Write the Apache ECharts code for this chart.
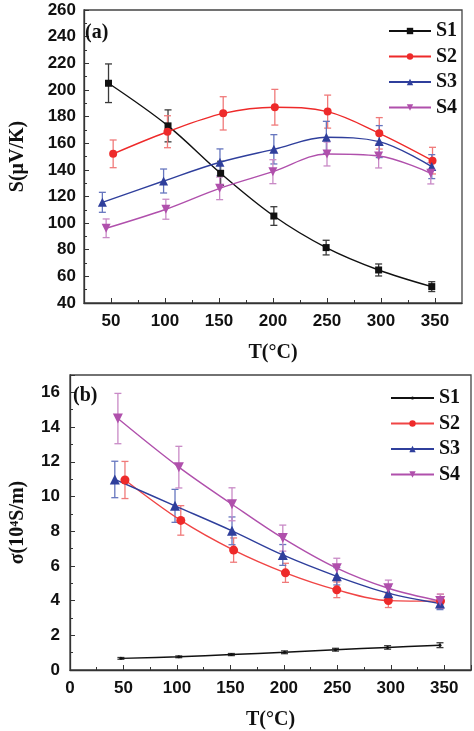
<!DOCTYPE html>
<html>
<head>
<meta charset="utf-8">
<script src="https://cdn.jsdelivr.net/npm/echarts@6/dist/echarts.min.js"></script>
<style>
html,body{margin:0;padding:0;background:#fff;}
#chart{width:474px;height:731px;}
</style>
</head>
<body>
<div id="chart"></div>
<script>
// ---------- Panel (a): Seebeck coefficient ----------
const seriesNames = ['S1', 'S2', 'S3', 'S4'];
const tickLabelsA = [50, 100, 150, 200, 250, 300, 350];
const tickLabelsB = [0, 50, 100, 150, 200, 250, 300, 350];

const aT_S1 = [47.7, 102.8, 151.5, 200.8, 249.2, 297.8, 347];
const aV_S1 = [205, 173, 137.4, 105.3, 81.6, 64.8, 52.3];
const aE_S1 = [14.5, 12, 9, 7, 5.5, 4.5, 3.7];

const aT_S2 = [52, 102.3, 153.9, 201.7, 250.6, 298.4, 347.7];
const aV_S2 = [152, 168.6, 182.4, 187, 183.7, 167.4, 146.9];
const aE_S2 = [10.4, 12, 12.5, 13.4, 12.4, 11.8, 10];

const aT_S3 = [42, 98.7, 150.9, 200.8, 249.4, 298.4, 347];
const aV_S3 = [115.6, 131.6, 145.7, 155.4, 164.4, 161.2, 142.4];
const aE_S3 = [7.5, 9, 10, 11, 12, 12, 9];

const aT_S4 = [45.5, 100.8, 150.6, 199.9, 250, 297.8, 346.1];
const aV_S4 = [96.1, 110.4, 126.1, 138.6, 151.9, 150.4, 137.4];
const aE_S4 = [7, 7.5, 8.5, 9, 9, 9, 8];

// ---------- Panel (b): electrical conductivity ----------
const bT_S1 = [47.6, 101.7, 150.9, 200.6, 248.3, 297, 346];
const bV_S1 = [0.67, 0.76, 0.89, 1.02, 1.17, 1.3, 1.43];
const bE_S1 = [0.05, 0.05, 0.06, 0.08, 0.08, 0.1, 0.14];

const bT_S2 = [51.4, 103.6, 153, 201.5, 249.5, 297.7, 346.5];
const bV_S2 = [10.95, 8.62, 6.91, 5.6, 4.62, 4.0, 3.97];
const bE_S2 = [1.07, 0.85, 0.7, 0.55, 0.45, 0.4, 0.4];

const bT_S3 = [41.9, 98.2, 151.5, 199, 249.5, 297.7, 346];
const bV_S3 = [10.98, 9.46, 8.02, 6.63, 5.4, 4.43, 3.83];
const bE_S3 = [1.05, 0.95, 0.8, 0.6, 0.5, 0.4, 0.35];

const bT_S4 = [44.8, 101.8, 151.5, 199, 249.5, 297.7, 346.2];
const bV_S4 = [14.49, 11.69, 9.55, 7.6, 5.87, 4.71, 3.97];
const bE_S4 = [1.45, 1.2, 0.95, 0.75, 0.57, 0.47, 0.4];

const lineColors = ['#111111', '#ee2a2a', '#2f3f9c', '#b050ac'];
const errColors = ['#3a3a3a', '#f07a7a', '#6676bf', '#c98ac6'];

const pairs = (xs, ys) => xs.map((x, i) => [x, ys[i]]);
const errs = (xs, ys, es) => xs.map((x, i) => [x, ys[i] - es[i], ys[i] + es[i]]);

function errSeries(xi, yi, data, color, cap) {
  return {
    type: 'custom', xAxisIndex: xi, yAxisIndex: yi, silent: true, z: 1,
    data: data,
    renderItem: function (params, api) {
      const x = api.value(0);
      const lo = api.coord([x, api.value(1)]);
      const hi = api.coord([x, api.value(2)]);
      const st = { stroke: color, lineWidth: 1.3 };
      return {
        type: 'group', children: [
          { type: 'line', shape: { x1: lo[0], y1: lo[1], x2: hi[0], y2: hi[1] }, style: st },
          { type: 'line', shape: { x1: lo[0] - cap, y1: lo[1], x2: lo[0] + cap, y2: lo[1] }, style: st },
          { type: 'line', shape: { x1: hi[0] - cap, y1: hi[1], x2: hi[0] + cap, y2: hi[1] }, style: st }
        ]
      };
    }
  };
}

const symbolsA = ['rect', 'circle', 'triangle', 'triangle'];
const rotA = [0, 0, 0, 180];
const sizeA = [7, 8, 9, 9];
const symbolsB = ['circle', 'circle', 'triangle', 'triangle'];
const sizeB = [3, 9, 10, 10];

const aX = [aT_S1, aT_S2, aT_S3, aT_S4];
const aY = [aV_S1, aV_S2, aV_S3, aV_S4];
const aE = [aE_S1, aE_S2, aE_S3, aE_S4];
const bX = [bT_S1, bT_S2, bT_S3, bT_S4];
const bY = [bV_S1, bV_S2, bV_S3, bV_S4];
const bE = [bE_S1, bE_S2, bE_S3, bE_S4];

const series = [];
for (let i = 0; i < 4; i++) {
  series.push(errSeries(0, 0, errs(aX[i], aY[i], aE[i]), errColors[i], 3.5));
  series.push({
    name: seriesNames[i], type: 'line', xAxisIndex: 0, yAxisIndex: 0,
    data: pairs(aX[i], aY[i]), smooth: 0.35, z: 3,
    symbol: symbolsA[i], symbolRotate: rotA[i], symbolSize: sizeA[i],
    lineStyle: { color: lineColors[i], width: 1.4 },
    itemStyle: { color: lineColors[i] }
  });
}
for (let i = 0; i < 4; i++) {
  series.push(errSeries(2, 2, errs(bX[i], bY[i], bE[i]), errColors[i], 3.5));
  series.push({
    name: seriesNames[i] + 'b', type: 'line', xAxisIndex: 2, yAxisIndex: 2,
    data: pairs(bX[i], bY[i]), smooth: 0.35, z: 3,
    symbol: symbolsB[i], symbolRotate: rotA[i], symbolSize: sizeB[i],
    lineStyle: { color: i === 1 ? '#f04545' : lineColors[i], width: 1.4 },
    itemStyle: { color: lineColors[i] }
  });
}

const labelFont = { fontFamily: 'Liberation Sans', fontWeight: 'bold', fontSize: 17, color: '#111' };
const nameFont = { fontFamily: 'Liberation Serif', fontWeight: 'bold', fontSize: 20, color: '#111' };
const axisLine = { show: true, lineStyle: { color: '#333', width: 1.3 } };
const stripB = n => n.replace('b', '');

const option = {
  backgroundColor: '#fff',
  animation: false,
  grid: [
    { left: 70, top: 10, width: 392, height: 293, show: true, borderColor: '#444', borderWidth: 1.3, backgroundColor: 'transparent' },
    { left: 56, top: 375, width: 415, height: 304, show: true, borderColor: '#444', borderWidth: 1.3, backgroundColor: 'transparent' }
  ],
  title: [
    { text: '(a)', left: 80, top: 18, textStyle: nameFont },
    { text: '(b)', left: 68, top: 381, textStyle: nameFont }
  ],
  legend: [
    {
      data: seriesNames, orient: 'vertical', left: 383, top: 16,
      itemWidth: 42, itemHeight: 8, itemGap: 5.5,
      textStyle: nameFont
    },
    {
      data: ['S1b'], orient: 'vertical', left: 385, top: 383,
      itemWidth: 43, itemHeight: 4,
      formatter: stripB, textStyle: nameFont
    },
    {
      data: ['S2b', 'S3b', 'S4b'], orient: 'vertical', left: 385, top: 408.5,
      itemWidth: 43, itemHeight: 8, itemGap: 5.5,
      formatter: stripB, textStyle: nameFont
    }
  ],
  xAxis: [
    {
      type: 'value', gridIndex: 0, min: 25, max: 375,
      name: 'T(°C)', nameLocation: 'middle', nameGap: 40, nameTextStyle: nameFont,
      axisLine: axisLine, splitLine: { show: false },
      axisTick: { inside: true, length: 5, customValues: tickLabelsA, lineStyle: { color: '#333' } },
      axisLabel: Object.assign({ customValues: tickLabelsA, margin: 10 }, labelFont)
    },
    {
      type: 'value', gridIndex: 0, min: 25, max: 375, position: 'bottom',
      axisLine: { show: false }, splitLine: { show: false }, axisLabel: { show: false },
      axisTick: { inside: true, length: 3, customValues: [75, 125, 175, 225, 275, 325], lineStyle: { color: '#333' } }
    },
    {
      type: 'value', gridIndex: 1, min: 0, max: 375, interval: 50,
      name: 'T(°C)', nameLocation: 'middle', nameGap: 40, nameTextStyle: nameFont,
      axisLine: axisLine, splitLine: { show: false },
      axisTick: { inside: true, length: 5, lineStyle: { color: '#333' } },
      minorTick: { show: true, splitNumber: 2, length: 3, lineStyle: { color: '#333' } },
      axisLabel: Object.assign({ showMaxLabel: false, margin: 10 }, labelFont)
    }
  ],
  yAxis: [
    {
      type: 'value', gridIndex: 0, min: 40, max: 260, interval: 20,
      name: 'S(μV/K)', nameLocation: 'middle', nameGap: 56, nameTextStyle: nameFont,
      axisLine: axisLine, splitLine: { show: false },
      axisTick: { inside: true, length: 5, lineStyle: { color: '#333' } },
      minorTick: { show: true, splitNumber: 2, length: 3, lineStyle: { color: '#333' } },
      axisLabel: Object.assign({ margin: 8 }, labelFont)
    },
    {
      type: 'value', gridIndex: 0, min: 40, max: 260, show: false
    },
    {
      type: 'value', gridIndex: 1, min: 0, max: 17, interval: 2,
      name: 'σ(10⁴S/m)', nameLocation: 'middle', nameGap: 42, nameTextStyle: nameFont,
      axisLine: axisLine, splitLine: { show: false },
      axisTick: { inside: true, length: 5, lineStyle: { color: '#333' } },
      minorTick: { show: true, splitNumber: 2, length: 3, lineStyle: { color: '#333' } },
      axisLabel: Object.assign({ showMaxLabel: false, margin: 10 }, labelFont)
    }
  ],
  series: series
};

const chart = echarts.init(document.getElementById('chart'), null, { renderer: 'canvas' });
chart.setOption(option);
</script>
</body>
</html>
